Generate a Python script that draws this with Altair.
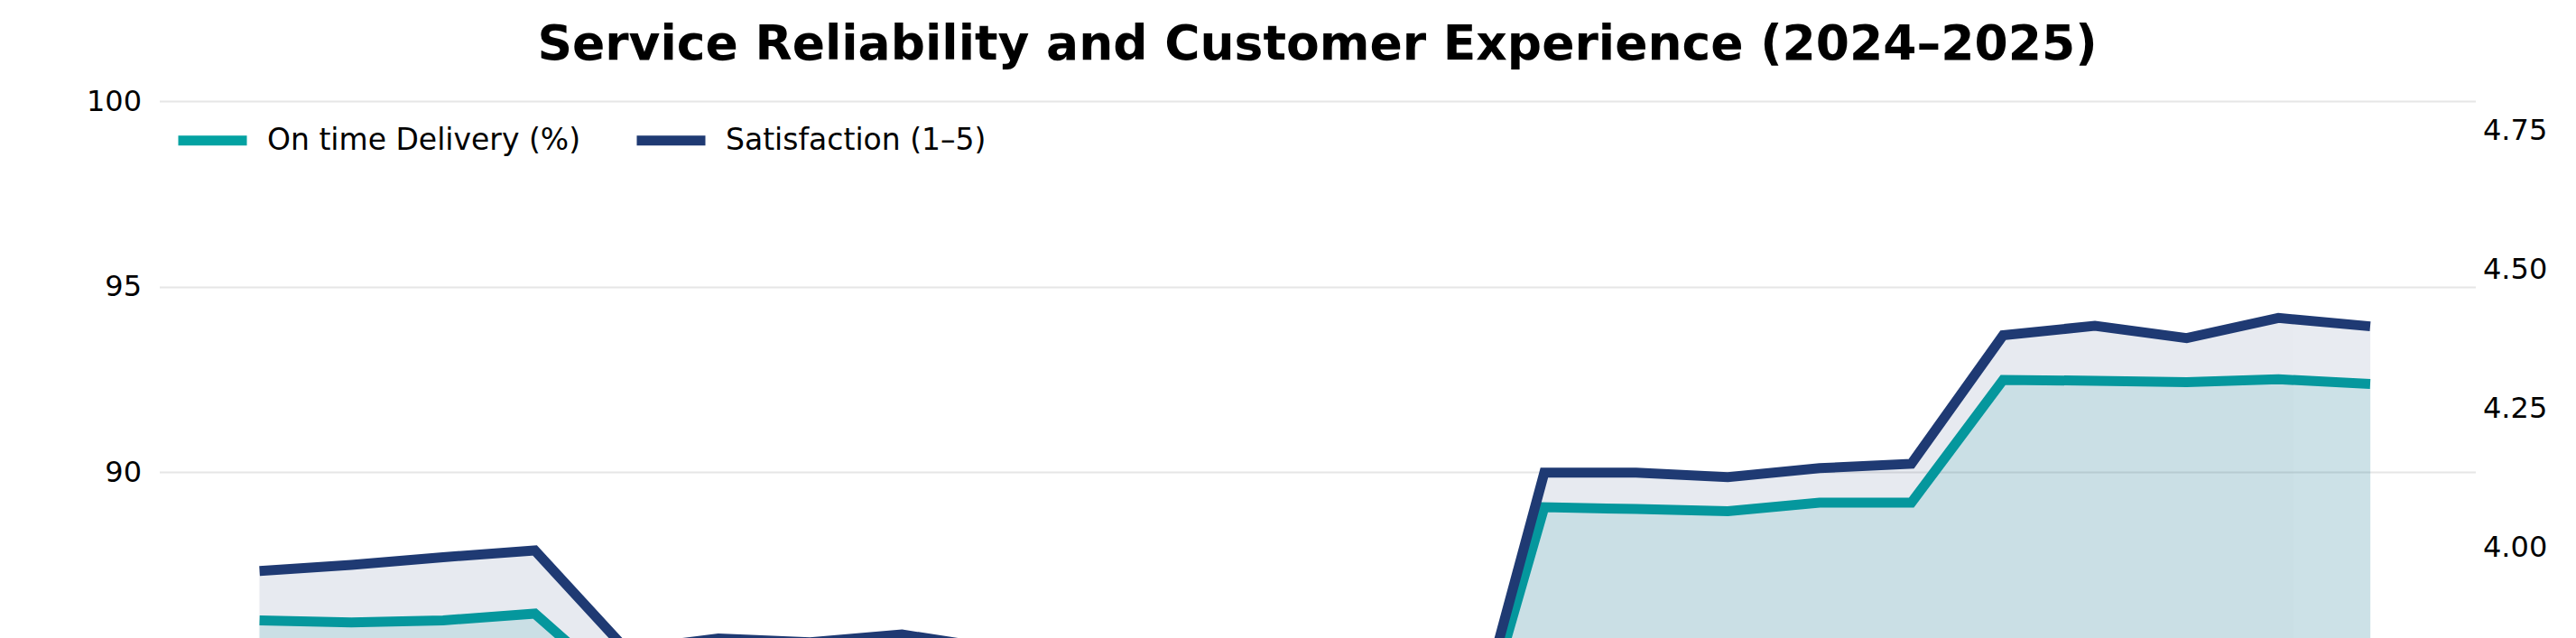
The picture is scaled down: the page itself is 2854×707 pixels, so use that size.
import altair as alt
import pandas as pd

months = ["2024-01", "2024-02", "2024-03", "2024-04", "2024-05", "2024-06",
          "2024-07", "2024-08", "2024-09", "2024-10", "2024-11", "2024-12",
          "2025-01", "2025-02", "2025-03", "2025-04", "2025-05", "2025-06",
          "2025-07", "2025-08", "2025-09", "2025-10", "2025-11", "2025-12"]
on_time = [86.0, 85.94, 86.0, 86.18, 84.0, 84.1, 83.9, 84.2, 84.0, 80.6,
           80.4, 80.7, 80.5, 80.46, 89.05, 89.0, 88.94, 89.17, 89.17, 92.48,
           92.46, 92.42, 92.5, 92.37]
satisfaction = [3.957, 3.968, 3.982, 3.994, 3.815, 3.836, 3.829, 3.843, 3.818,
                3.53, 3.54, 3.52, 3.55, 3.524, 4.134, 4.134, 4.126, 4.142,
                4.150, 4.381, 4.398, 4.376, 4.412, 4.397]
series_names = ["On time Delivery (%)", "Satisfaction (1–5)"]
series_colors = ["#03a2a2", "#1f3a73"]
left_ticks = [85, 90, 95, 100]
right_ticks = [4.0, 4.25, 4.5, 4.75]

df = pd.DataFrame({
    "idx": list(range(len(months))),
    "month": months,
    "on_time": on_time,
    "sat": satisfaction,
})

FONT = "DejaVu Sans"
W, H = 2566, 595
x_enc = alt.X("idx:Q", scale=alt.Scale(domain=[-1.0925, 24.146], nice=False, zero=False), axis=None)

y_left = alt.Y("on_time:Q",
               scale=alt.Scale(domain=[100 - H / 41.1, 100], nice=False, zero=False),
               axis=alt.Axis(orient="left", values=left_ticks, grid=True, ticks=False,
                             domain=False, labelPadding=20, title=None,
                             gridColor="#e6e6e6", gridWidth=2))
y_right = alt.Y("sat:Q",
                scale=alt.Scale(domain=[4.802 - H / 616.4, 4.802], nice=False, zero=False),
                axis=alt.Axis(orient="right", values=right_ticks, format=".2f", grid=False,
                              ticks=False, domain=False, labelPadding=8, title=None))

color_scale = alt.Scale(domain=series_names, range=series_colors)
legend = alt.Legend(title=None, orient="none", legendX=15.5, legendY=0,
                    direction="horizontal", columns=2, symbolType="stroke",
                    symbolSize=5776, symbolStrokeWidth=11, labelFontSize=33,
                    labelFont=FONT, labelColor="#000000", labelOffset=17,
                    labelLimit=0, columnPadding=40, padding=0)

base = alt.Chart(df)
teal_area = base.mark_area(clip=True, color=series_colors[0], opacity=0.12,
                           stroke=series_colors[0], strokeOpacity=0.25, strokeWidth=1.5
                           ).encode(x=x_enc, y=y_left)
teal_line = base.mark_line(clip=True, strokeWidth=11, strokeJoin="miter").encode(
    x=x_enc, y=y_left,
    color=alt.Color("s:N", scale=color_scale, legend=legend)
).transform_calculate(s=f"'{series_names[0]}'")
navy_area = base.mark_area(clip=True, color=series_colors[1], opacity=0.1,
                           stroke=series_colors[1], strokeOpacity=0.2, strokeWidth=1.5
                           ).encode(x=x_enc, y=y_right)
navy_line = base.mark_line(clip=True, strokeWidth=11, strokeJoin="miter").encode(
    x=x_enc, y=y_right,
    color=alt.Color("s:N", scale=color_scale, legend=legend)
).transform_calculate(s=f"'{series_names[1]}'")

chart = alt.layer(
    alt.layer(teal_area, teal_line),
    alt.layer(navy_area, navy_line),
).resolve_scale(y="independent").properties(
    width=W, height=H,
    autosize=alt.AutoSizeParams(type="none"),
    padding={"left": 168.5, "top": 104, "right": 95, "bottom": 0},
    title=alt.Title("Service Reliability and Customer Experience (2024–2025)",
                    font=FONT, fontSize=53.5, fontWeight="bold", color="#000000",
                    anchor="middle", frame="group", offset=19),
).configure_view(stroke=None).configure_axis(
    labelFont=FONT, labelFontSize=32, labelColor="#000000"
)

chart.save("out.html", embed_options={"renderer": "svg", "actions": False})
